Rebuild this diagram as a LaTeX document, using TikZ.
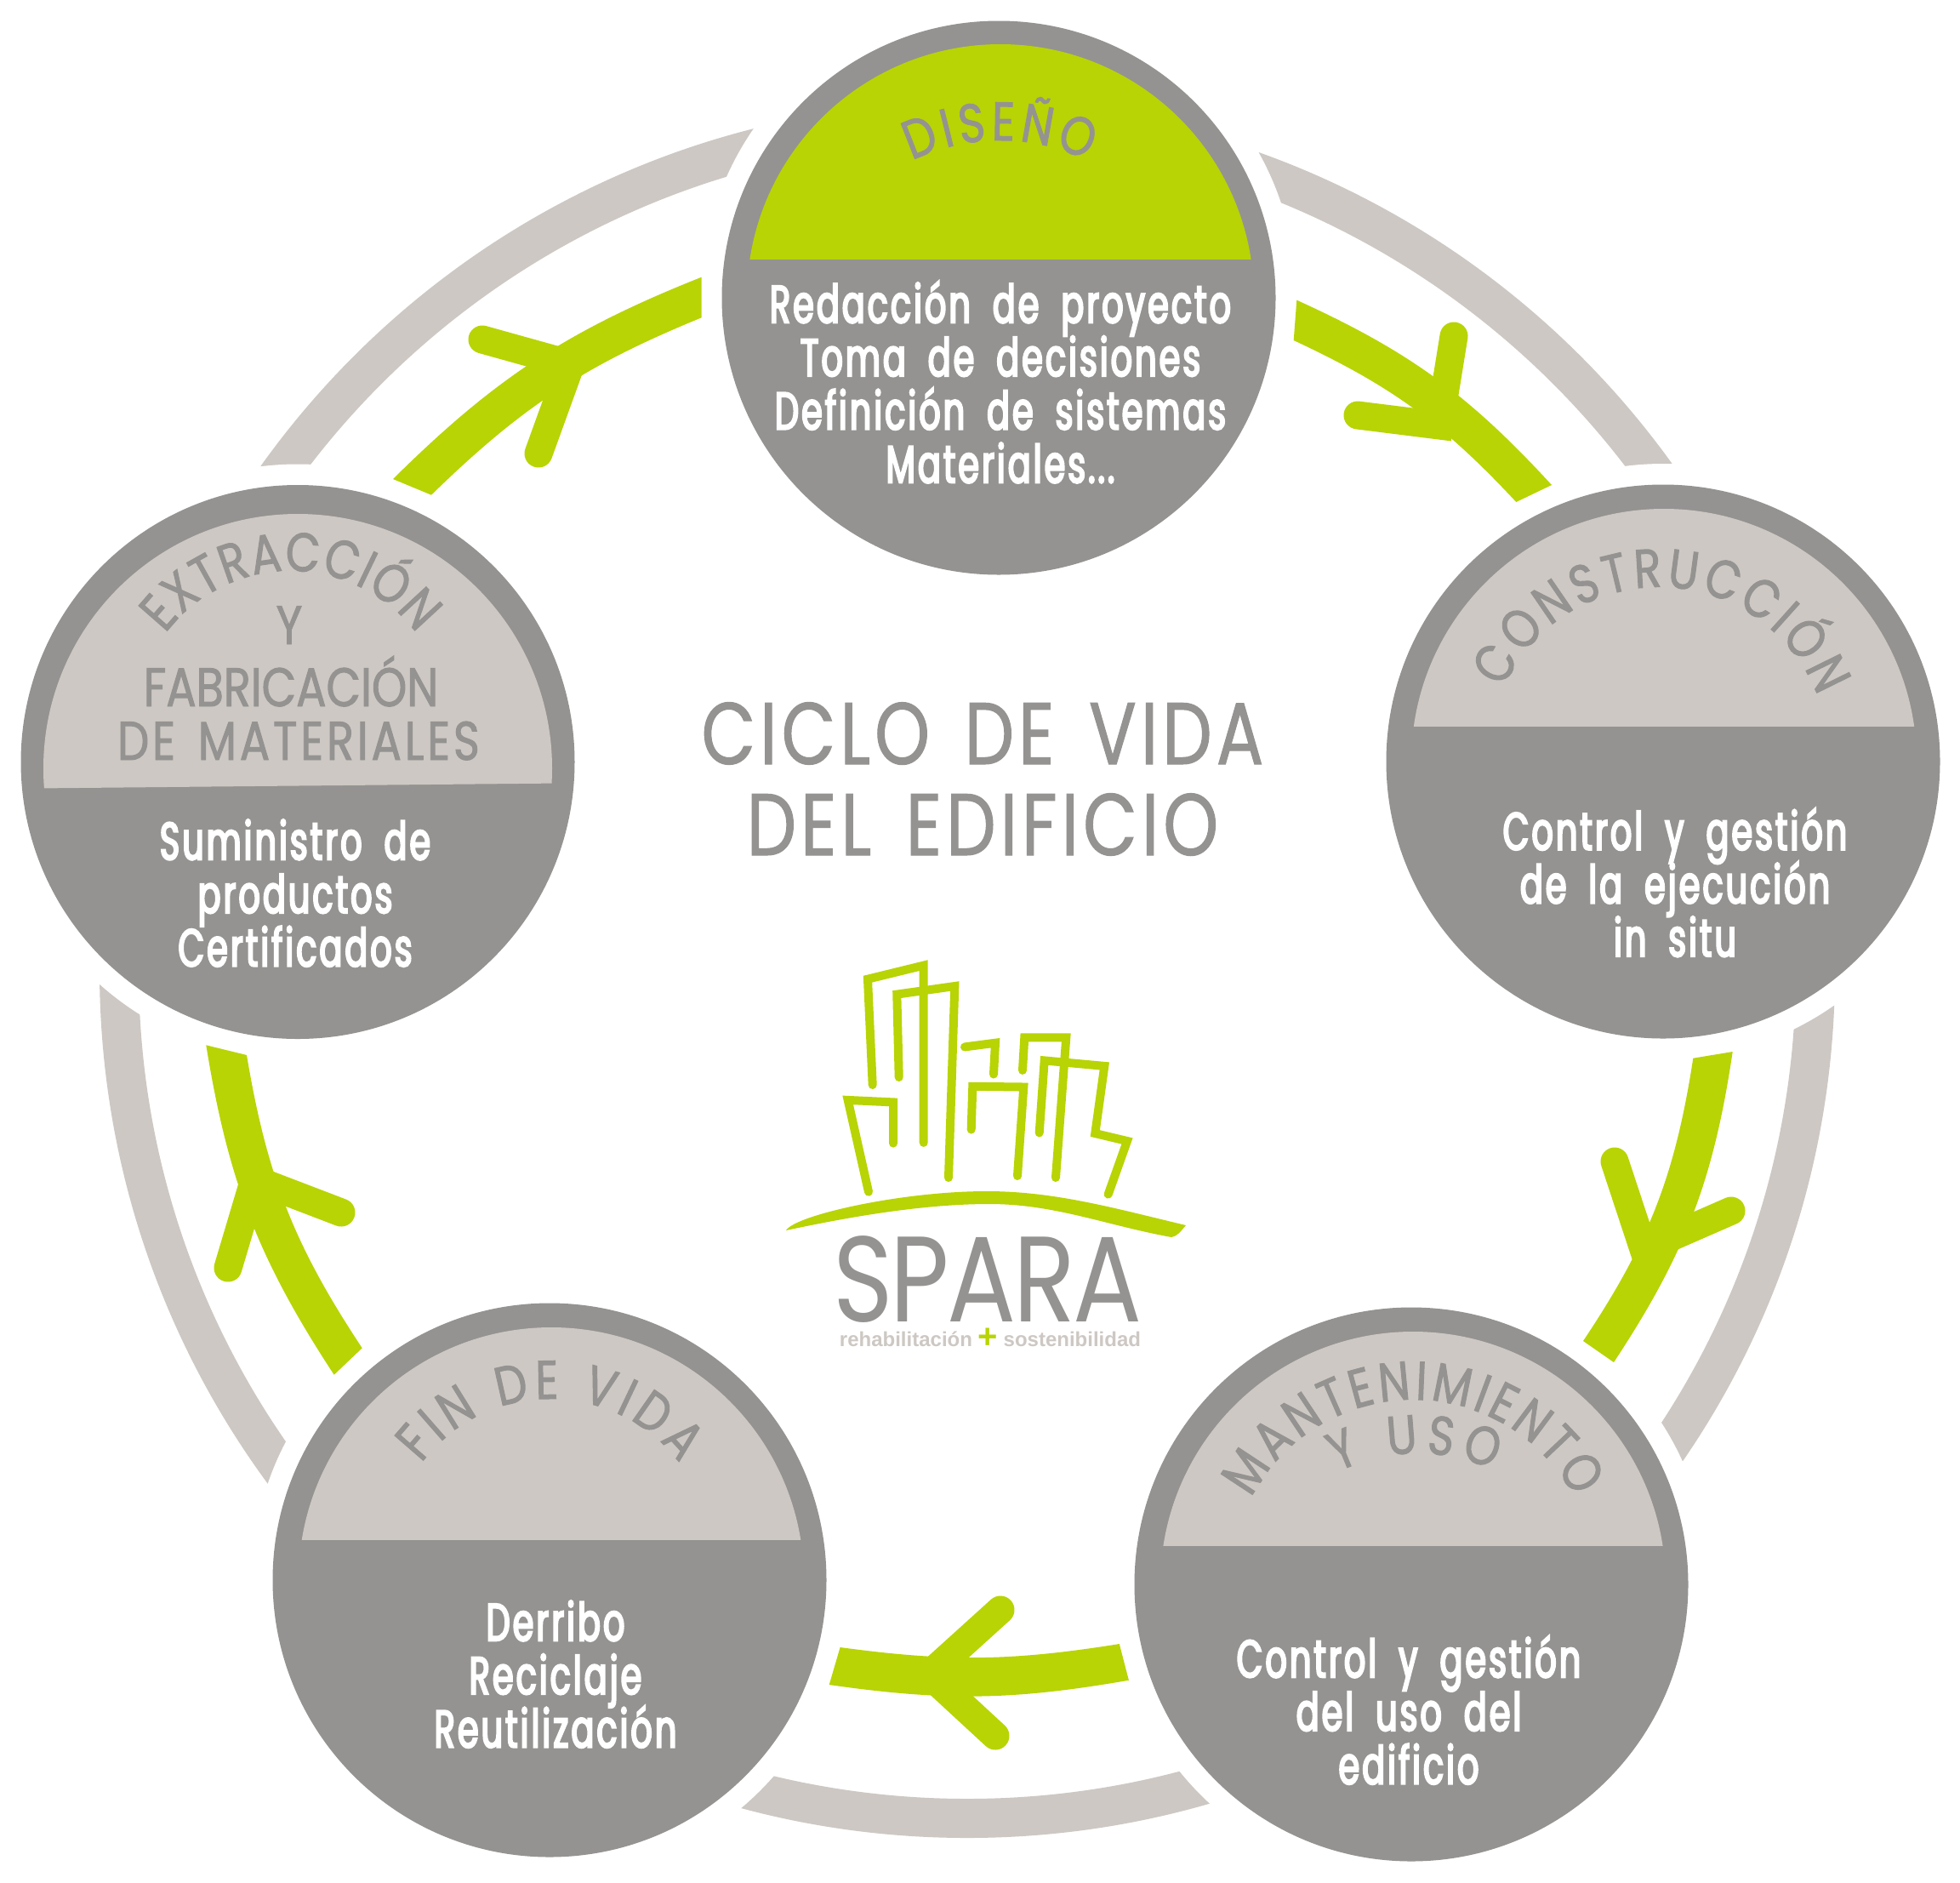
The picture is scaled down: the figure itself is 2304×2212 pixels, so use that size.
\documentclass[tikz,border=0pt]{standalone}
\usepackage{fontspec}
\usetikzlibrary{decorations.text}
\newfontfamily\bodyff{Poppins}[FakeStretch=0.64,FakeBold=3.5,LetterSpace=5,WordSpace=1.9]
\newfontfamily\headff{Poppins}[FakeStretch=0.82,FakeBold=1.5]
\newfontfamily\headwideff{Poppins}[FakeStretch=0.82,FakeBold=1.5,LetterSpace=6,WordSpace=1.5]
\newfontfamily\titleff{Poppins}[FakeStretch=0.80,FakeBold=1,LetterSpace=5,WordSpace=1.5]
\newfontfamily\logoff{Poppins}[FakeStretch=0.84,LetterSpace=-2]
\newfontfamily\subff{Liberation Sans}
\definecolor{greyc}{HTML}{949391}
\definecolor{lightc}{HTML}{CDC8C3}
\definecolor{greenc}{HTML}{B8D404}
\newcommand\bodyfont{\bodyff\fontsize{62}{62.7}\selectfont\lineskiplimit=-200pt }
\newcommand\headfont{\headff\fontsize{64}{64}\selectfont}
\newcommand\capseg[5]{\begin{scope}\clip (#1-#3-6,-#4) rectangle (#1+#3+6,-#2+#3+6);\fill[#5] (#1,-#2) circle (#3);\end{scope}}
\newcommand\arclabel[6]{\path[decorate,decoration={text along path,text align={fit to path},text={|\headfont\color{greyc}|#6}}] ({#1+#3*cos(#4)},{-#2+#3*sin(#4)}) arc[start angle=#4,end angle=#5,radius=#3];}
\newcommand\greenband[6]{\fill[greenc] (#1) to[bend left=#5] (#2) -- (#4) to[bend right=#6] (#3) -- cycle;}
\tikzset{
  disc/.style={circle,fill=greyc,minimum size=651pt,inner sep=0pt,draw=none},
  ringband/.style={draw=lightc,line width=46pt},
  barb/.style={draw=greenc,line width=33pt,line cap=round},
  bodytxt/.style={anchor=north,inner sep=0pt,align=center,text=white,font=\bodyfont},
  headtxt/.style={anchor=base,inner sep=0pt,align=center,text=greyc,font=\headfont},
  titletxt/.style={anchor=base,inner sep=0pt,text=greyc,font=\titleff\fontsize{103}{103}\selectfont},
  bld/.style={draw=greenc,line width=10pt,line cap=round,line join=miter}
}
\begin{document}
\begin{tikzpicture}[x=1pt,y=1pt]
\useasboundingbox (0,0) rectangle (2304,-2212);
\fill[white] (0,0) rectangle (2304,-2212);
% centres
\coordinate (p1) at (1174,-350);
\coordinate (p2) at (1955,-895);
\coordinate (p3) at (1659,-1862);
\coordinate (p4) at (646,-1857);
\coordinate (p5) at (350,-895.5);
% outer ring, cut by white halos
\draw[ringband] (1137,-1140) circle (997);
\foreach \p in {p1,p2,p3,p4,p5} \fill[white] (\p) circle (350);
% discs
\node[disc] (c1) at (p1) {};
\node[disc] (c2) at (p2) {};
\node[disc] (c3) at (p3) {};
\node[disc] (c4) at (p4) {};
\node[disc] (c5) at (p5) {};
\capseg{1176}{350}{298}{304.5}{greenc}
\capseg{1956}{895}{297}{853}{lightc}
\capseg{1661}{1862}{297}{1816}{lightc}
\capseg{648}{1857}{297}{1809}{lightc}
\begin{scope}\clip (40,-926.5) -- (660,-920.5) -- (660,-590) -- (40,-590) -- cycle;\fill[lightc] (350,-903) circle (299);\end{scope}
% green connectors: outer start, outer end, inner start, inner end
\coordinate (a1) at (1524.3,-352.7); \coordinate (b1) at (1824,-570); \coordinate (d1) at (1520.7,-400); \coordinate (f1) at (1782.3,-590);
\coordinate (j1) at (1692,-500); \coordinate (b1a) at (1709,-395); \coordinate (b1b) at (1596,-488);
\coordinate (a2) at (2036.7,-1236); \coordinate (b2) at (1897,-1601); \coordinate (d2) at (1990.3,-1243.7); \coordinate (f2) at (1861,-1576);
\coordinate (j2) at (1932,-1468); \coordinate (b2a) at (1898,-1365); \coordinate (b2b) at (2035,-1423);
\coordinate (a3) at (1326.9,-1974.7); \coordinate (b3) at (974.7,-1980); \coordinate (d3) at (1315.8,-1932); \coordinate (f3) at (987.6,-1936);
\coordinate (j3) at (1092,-1968); \coordinate (b3a) at (1176,-1892); \coordinate (b3b) at (1170,-2040);
\coordinate (a4) at (392.7,-1615.7); \coordinate (b4) at (242.3,-1228.3); \coordinate (d4) at (425.7,-1584.3); \coordinate (f4) at (290,-1240);
\coordinate (j4) at (299,-1386); \coordinate (b4a) at (401,-1425); \coordinate (b4b) at (268,-1490);
\coordinate (a5) at (462,-563); \coordinate (b5) at (824.6,-325.7); \coordinate (d5) at (507,-581.7); \coordinate (f5) at (824.6,-373.3);
\coordinate (j5) at (671,-428); \coordinate (b5a) at (567,-399); \coordinate (b5b) at (633,-533);
\greenband{a1}{b1}{d1}{f1}{11.5}{11}
\draw[barb] (b1a) -- (j1) -- (b1b);
\greenband{a2}{b2}{d2}{f2}{12.5}{12.5}
\draw[barb] (b2a) -- (j2) -- (b2b);
\greenband{a3}{b3}{d3}{f3}{9}{8.4}
\draw[barb] (b3a) -- (j3) -- (b3b);
\greenband{a4}{b4}{d4}{f4}{12}{12}
\draw[barb] (b4a) -- (j4) -- (b4b);
\greenband{a5}{b5}{d5}{f5}{11.5}{11}
\draw[barb] (b5a) -- (j5) -- (b5b);
% arc headings
\arclabel{1175}{400}{235}{116}{64}{DISEÑO}
\arclabel{1950}{890}{200}{156}{21}{CONSTRUCCIÓN}
\arclabel{1661}{1859}{214}{152.6}{27.4}{MANTENIMIENTO}
\arclabel{1666}{1918}{210}{116.6}{65}{Y USO}
\arclabel{647}{1834}{190}{143}{37}{FIN DE VIDA}
\arclabel{342}{856}{185}{143}{37}{EXTRACCIÓN}
\node[headtxt] (hy) at (340,-757) {Y};
\node[headtxt] (hf) at (342,-830) {FABRICACIÓN};
\node[headtxt] (hm) at (351,-893) {\headwideff DE MATERIALES};
% body text
\node[bodytxt] (t1) at (1176,-379+50) {\rule{0pt}{50pt}Redacción de proyecto\\Toma de decisiones\\Definición de sistemas\\Materiales...};
\node[bodytxt] (t2) at (1969,-998.5+50) {\rule{0pt}{50pt}Control y gestión\\de la ejecución\\in situ};
\node[bodytxt] (t3) at (1656,-1971+50) {\rule{0pt}{50pt}Control y gestión\\del uso del\\edificio};
\node[bodytxt] (t4) at (653,-1928+50) {\rule{0pt}{50pt}Derribo\\Reciclaje\\Reutilización};
\node[bodytxt] (t5) at (347,-1010+50) {\rule{0pt}{50pt}Suministro de\\productos\\Certificados};
% title
\node[titletxt] (ti1) at (1155,-898) {CICLO DE VIDA};
\node[titletxt] (ti2) at (1155,-1005) {DEL EDIFICIO};
% logo
\draw[bld] (1025.7,-1275) -- (1020,-1150.7) -- (1085.7,-1134.6) -- (1085.7,-1342.9);
\draw[bld] (1056.7,-1266) -- (1054.3,-1168.6) -- (1122.3,-1159) -- (1115,-1384);
\draw[bld] (1050,-1343.6) -- (1050,-1295.4) -- (996.7,-1292.9) -- (1021,-1400.7);
\draw[bld] (1134,-1230.4) -- (1170,-1225.7) -- (1168,-1262.5);
\draw[bld] (1141.7,-1327.5) -- (1143.3,-1276.8) -- (1203.3,-1277.5) -- (1196,-1382);
\draw[bld] (1202,-1257.9) -- (1204.3,-1219.3) -- (1253.3,-1219.3) -- (1241,-1384);
\draw[bld] (1221.7,-1331.4) -- (1227.7,-1246.4) -- (1298.3,-1252.9) -- (1287.3,-1332) -- (1325,-1341) -- (1302.7,-1403.6);
\fill[greenc] (924,-1446) .. controls (935,-1428) and (1060,-1400) .. (1160,-1400) .. controls (1240,-1400) and (1310,-1420) .. (1394,-1440) .. controls (1388,-1447) and (1384,-1453) .. (1377,-1454) .. controls (1300,-1440) and (1240,-1415) .. (1163,-1415) .. controls (1080,-1415) and (990,-1432) .. (924,-1446) -- cycle;
\node[anchor=base,inner sep=0pt,text=greyc,font=\logoff\fontsize{143}{143}\selectfont] (lg) at (1161,-1553.5) {SPARA};
\node[anchor=base,inner sep=0pt,text=lightc,font=\subff\bfseries\fontsize{24}{24}\selectfont] (ls) at (1164,-1582) {rehabilitación \raisebox{-2pt}{\textcolor{greenc}{\fontsize{40}{40}\selectfont +}} sostenibilidad};
\end{tikzpicture}
\end{document}
